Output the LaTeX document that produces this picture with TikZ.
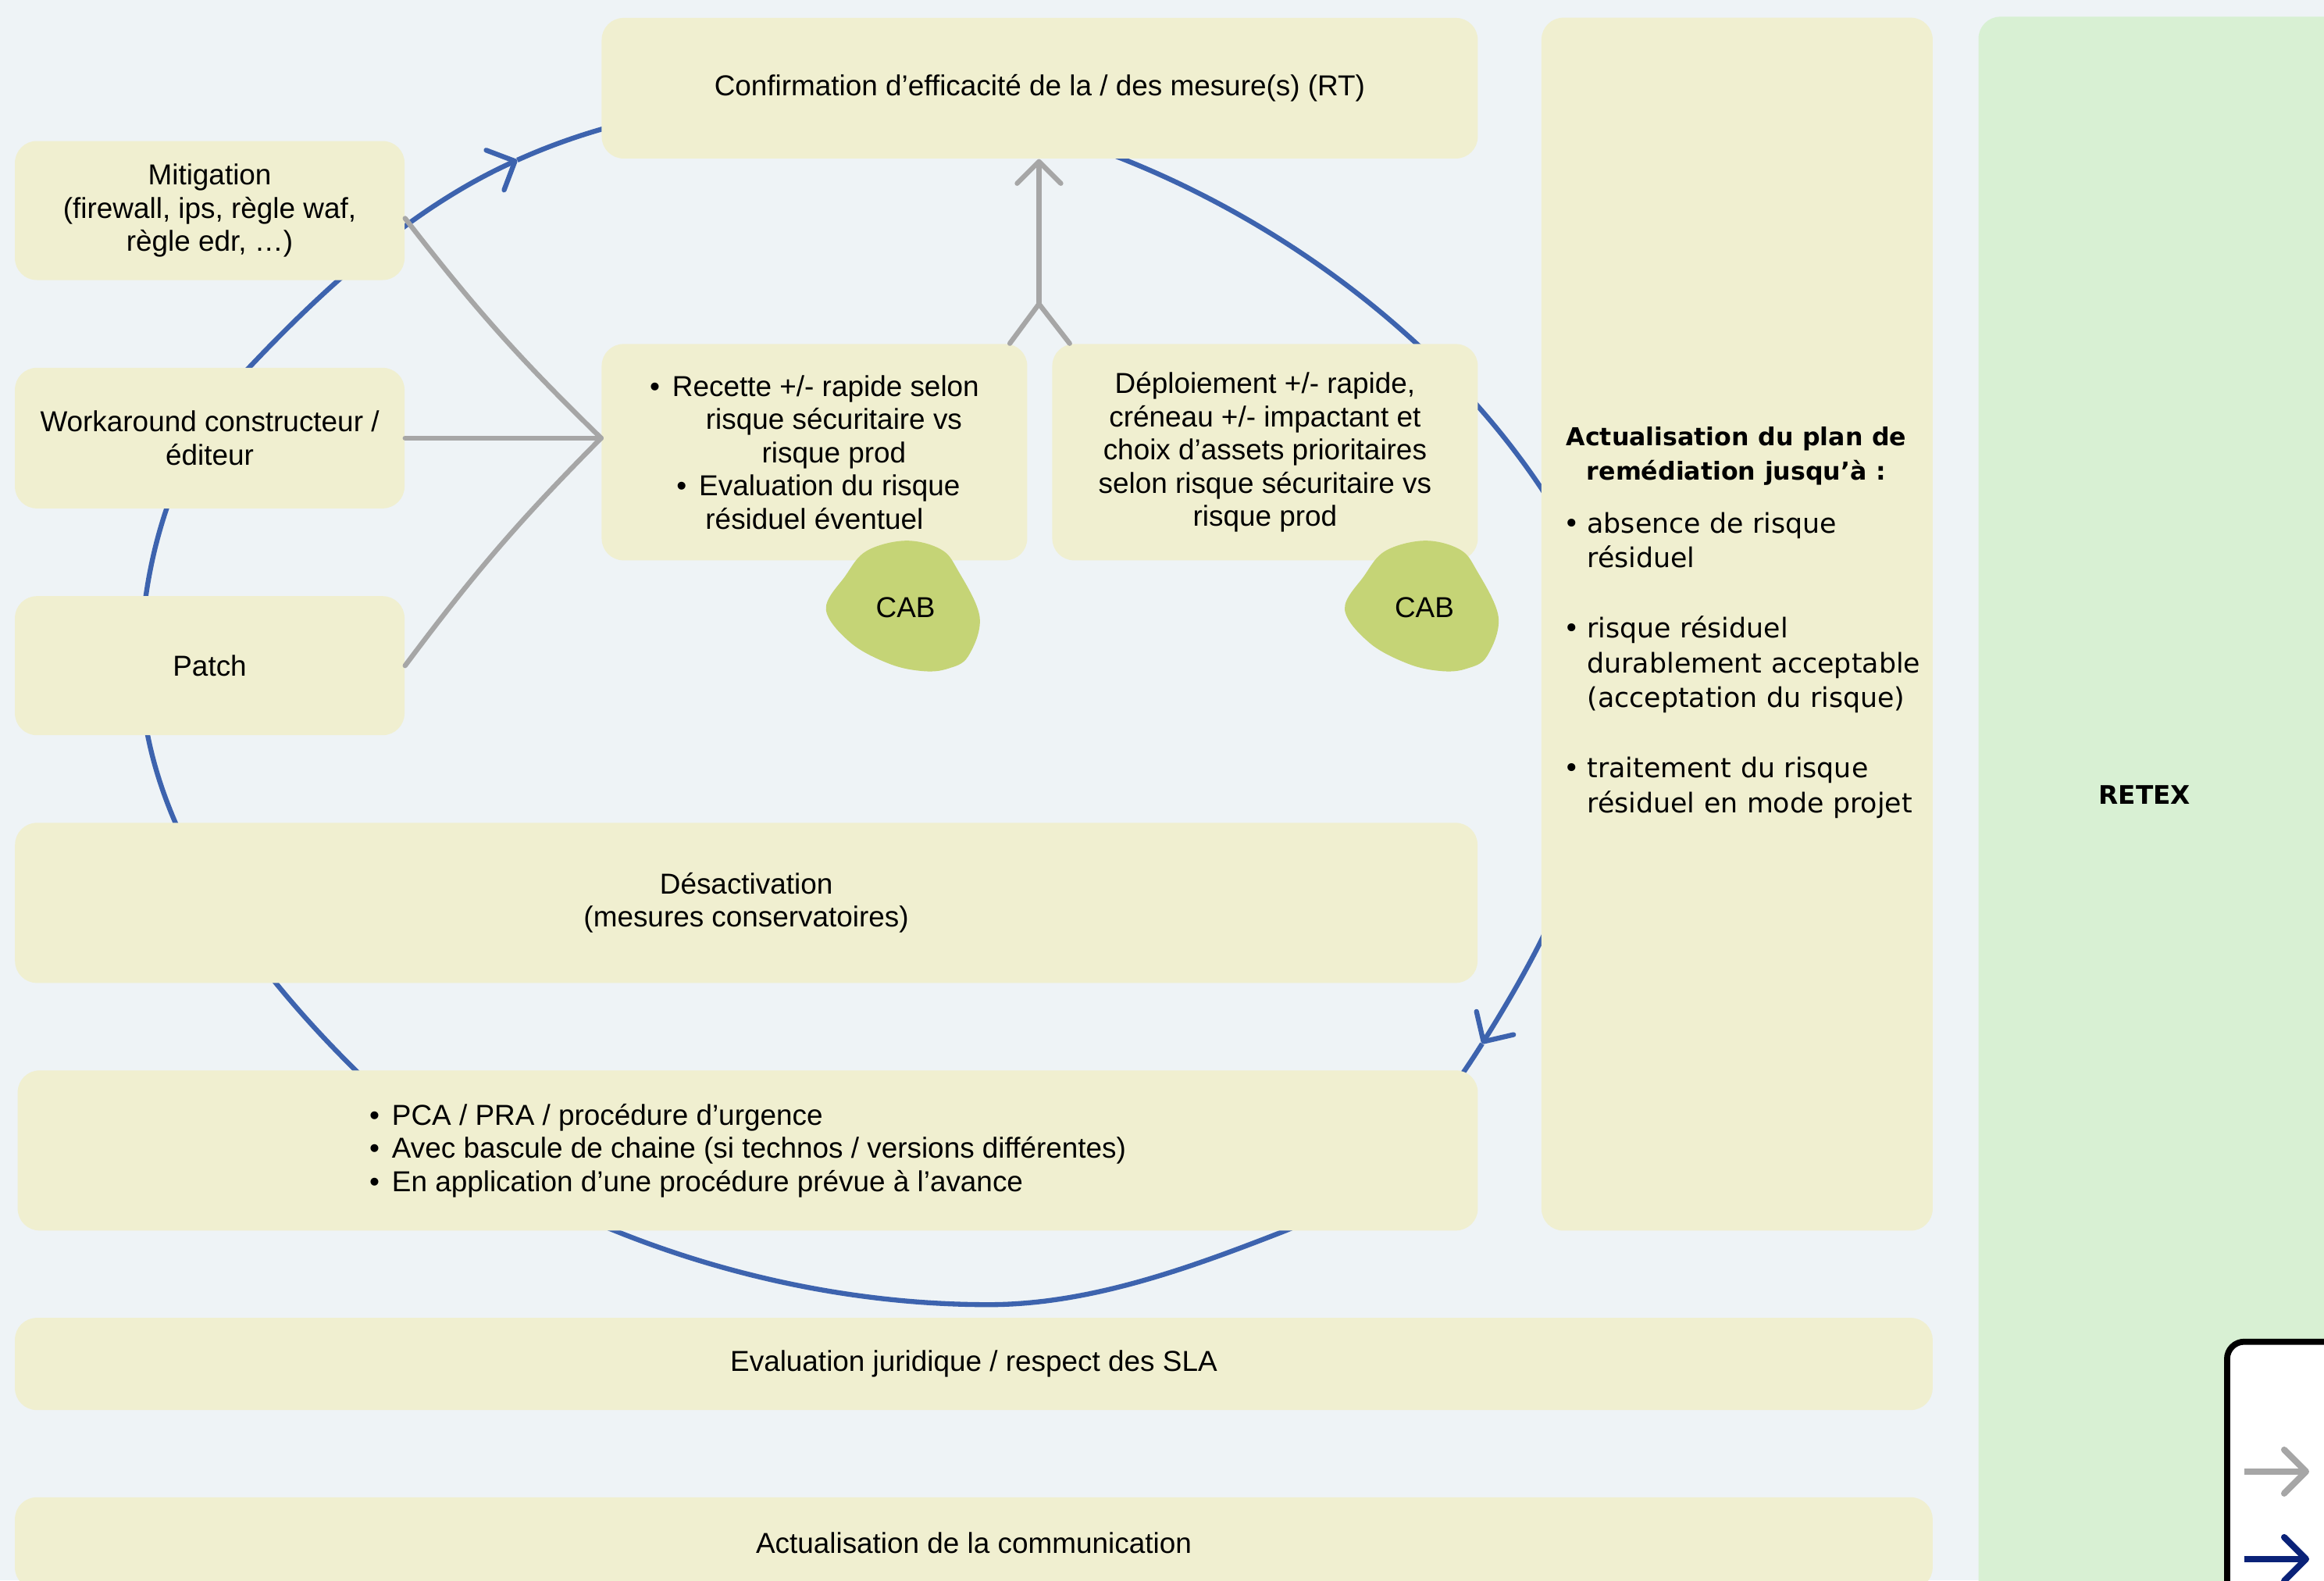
\documentclass[tikz,border=0pt]{standalone}
\usepackage{fontspec}
\setmainfont{Liberation Sans}
\newfontfamily\planfont{DejaVu Sans}
\usetikzlibrary{arrows.meta}

\newcommand{\bul}{\textbullet\hspace{0.16cm}}
\newcommand{\planitem}[1]{\hangindent=0.3cm\hangafter=1\noindent\makebox[0.3cm][l]{\textbullet}#1\par}

\begin{document}
\begin{tikzpicture}[x=0.01898cm, y=-0.01898cm,
    card/.style={fill=cardyellow, rounded corners=0.28cm, inner sep=0pt, align=center,
      font=\fontsize{10.5}{12.1}\selectfont},
    cab/.style={inner sep=0pt, font=\fontsize{10.5}{12.1}\selectfont},
    plantext/.style={inner sep=0pt, text width=4.42cm, align=left,
      font=\planfont\fontsize{9.9}{12.65}\selectfont},
    feed/.style={color=linkgray, line width=1.8pt, line cap=round, line join=round},
    cycleline/.style={color=loopblue, line width=1.8pt},
    barbtip/.style={-{Straight Barb[length=0.28cm, width=0.56cm, round]}},
  ]
    \definecolor{backdrop}{HTML}{EEF3F6}
    \definecolor{cardyellow}{HTML}{F0EFD0}
    \definecolor{retexgreen}{HTML}{D8F0D3}
    \definecolor{cabgreen}{HTML}{C5D476}
    \definecolor{loopblue}{HTML}{3D63AE}
    \definecolor{linkgray}{HTML}{A6A6A6}
    \definecolor{legendnavy}{HTML}{0A2278}
    \def\blob#1{\fill[cabgreen, shift={#1}] plot[smooth cycle, tension=0.6] coordinates {(0,-45.3)
      (23.7,-39.5) (35.3,-25.3) (50,6.3) (42.2,32.7) (28.5,41) (12.1,42.7) (-10.5,37.9)
      (-36.9,23.7) (-53.7,1) (-40.6,-21.6) (-26.3,-38.4)};}

    \useasboundingbox (0,0) rectangle (1568,1066);
    \clip (0,0) rectangle (1568,1066);
    \fill[backdrop] (0,0) rectangle (1568,1066);

    % the blue loop runs behind the cards
    \coordinate (loopA) at (349,108);
    \coordinate (loopB) at (1000,704);
    \draw[cycleline, barbtip] (loopA) .. controls (473,52) and (630.5,57) .. (757,107)
      .. controls (867.7,151) and (972.4,229.2) .. (1039,328)
      .. controls (1068.7,372) and (1082,429) .. (1082,482)
      .. controls (1082,561) and (1041.9,636.8) .. (loopB);
    \draw[cycleline, barbtip] (loopB) .. controls (967,756.7) and (922.7,808.7) .. (865,831)
      .. controls (802,855.5) and (735,880) .. (667,880)
      .. controls (582,880) and (496,862.5) .. (417,831)
      .. controls (353,805.5) and (289,770.3) .. (240,722)
      .. controls (167,650) and (95,553) .. (95,450)
      .. controls (95,378) and (118.3,300.6) .. (168,248)
      .. controls (220.4,192.5) and (279.8,139.2) .. (loopA);

    \node[card, minimum width=11.22cm, minimum height=1.80cm] (confirm) at (701.5,59.5)
      {Confirmation d’efficacité de la / des mesure(s) (RT)};
    \node[card, minimum width=4.99cm, minimum height=1.78cm] (mitig) at (141.5,142)
      {Mitigation\\(firewall, ips, règle waf,\\règle edr, …)};
    \node[card, minimum width=4.99cm, minimum height=1.80cm] (work) at (141.5,295.5)
      {Workaround constructeur /\\éditeur};
    \node[card, minimum width=4.99cm, minimum height=1.78cm] (patch) at (141.5,449) {Patch};
    \node[card, minimum width=5.45cm, minimum height=2.77cm] (recette) at (549.5,305)
      {\bul Recette +/- rapide selon\\\hspace*{0.5cm}risque sécuritaire vs\\\hspace*{0.5cm}risque prod\\
       \hspace*{0.1cm}\bul Evaluation du risque\\résiduel éventuel};
    \node[card, minimum width=5.45cm, minimum height=2.77cm] (deploi) at (853.5,305)
      {Déploiement +/- rapide,\\créneau +/- impactant et\\choix d’assets prioritaires\\
       selon risque sécuritaire vs\\risque prod};
    \node[card, minimum width=18.73cm, minimum height=2.05cm] (desact) at (503.5,609)
      {Désactivation\\(mesures conservatoires)};
    \node[card, minimum width=18.70cm, minimum height=2.05cm, align=left] (pca) at (504.5,776)
      {\bul PCA / PRA / procédure d’urgence\\\bul Avec bascule de chaine (si technos / versions différentes)\\
       \bul En application d’une procédure prévue à l’avance};
    \node[card, minimum width=24.56cm, minimum height=1.18cm] (evaljur) at (657,920)
      {Evaluation juridique / respect des SLA};
    \node[card, minimum width=24.56cm, minimum height=1.18cm] (comm) at (657,1041)
      {Actualisation de la communication};
    \node[card, minimum width=5.01cm, minimum height=15.53cm] (plan) at (1172,421) {};
    \node[plantext] (plantxt) at (1171.5,420) {%
      {\centering\bfseries\fontsize{9.0}{12.4}\selectfont Actualisation du plan de\\remédiation jusqu’à :\par}
      \vspace{6.6pt}
      \planitem{\mbox{absence de risque}\newline\mbox{résiduel}}
      \vspace{13pt}
      \planitem{\mbox{risque résiduel}\newline\mbox{durablement acceptable}\newline\mbox{(acceptation du risque)}}
      \vspace{13pt}
      \planitem{\mbox{traitement du risque}\newline\mbox{résiduel en mode projet}}};
    \node[card, fill=retexgreen, minimum width=5.7cm, minimum height=20.3cm] (retex) at (1485,546) {};
    \node[inner sep=0pt, font=\planfont\bfseries\fontsize{9.3}{11}\selectfont] (retextxt) at (1447,536) {RETEX};

    % CAB blobs
    \blob{(611,410)}
    \node[cab] (cabA) at (611,410) {CAB};
    \blob{(961,410)}
    \node[cab] (cabB) at (961,410) {CAB};

    % grey links
    \coordinate (merge) at (recette.west |- work.east);
    \draw[feed] ([yshift=-0.1cm]mitig.east) to[bend right=4] (merge);
    \draw[feed] (work.east) -- (merge);
    \draw[feed] (patch.east) to[bend left=4] (merge);
    \coordinate (join) at (701,205);
    \draw[feed] ([xshift=-0.23cm]recette.north east) -- (join) -- ([xshift=0.23cm]deploi.north west);
    \draw[feed, barbtip] (join) -- (join |- confirm.south);

    % legend
    \draw[line width=2.2pt, fill=white, rounded corners=0.22cm] (1502.6,905) rectangle (1700,1150);
    \coordinate (keyA) at (1514,992.6);
    \coordinate (keyB) at (1558,992.6);
    \coordinate (keyC) at (1514,1051.6);
    \coordinate (keyD) at (1558,1051.6);
    \draw[feed, line width=2.3pt, line cap=butt, barbtip] (keyA) -- (keyB);
    \draw[feed, color=legendnavy, line width=2.3pt, line cap=butt, barbtip] (keyC) -- (keyD);
  \end{tikzpicture}
\end{document}
